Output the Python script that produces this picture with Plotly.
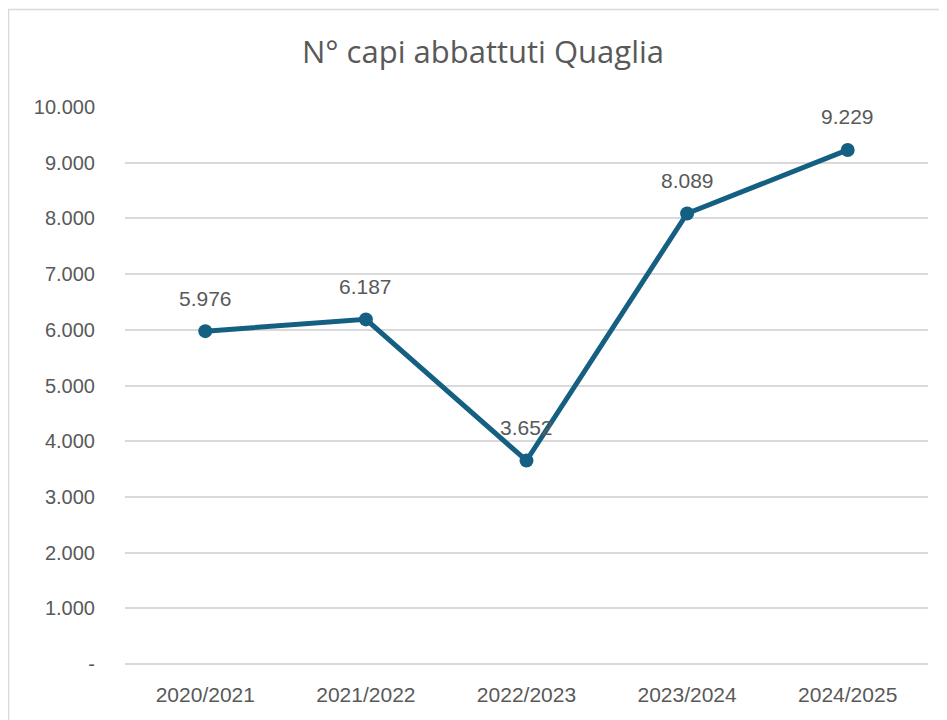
import plotly.graph_objects as go

categories = ["2020/2021", "2021/2022", "2022/2023", "2023/2024", "2024/2025"]
values = [5976, 6187, 3652, 8089, 9229]
y_tick_vals = [0, 1000, 2000, 3000, 4000, 5000, 6000, 7000, 8000, 9000, 10000]
y_tick_text = ["-" if v == 0 else f"{v:,}".replace(",", ".") for v in y_tick_vals]
title_text = "N° capi abbattuti Quaglia"

line_color = "#156082"
text_color = "#595959"
grid_color = "#d9d9d9"

# page has an 8px body margin; figure coordinates = page coordinates - 8
OFF = 8
W, H = 947 - OFF, 720 - OFF
L, T = 125 - OFF, 107 - OFF
R = W - (928 - OFF)
B = H - (664 - OFF)
pw, ph = W - L - R, H - T - B

fig = go.Figure()
fig.add_trace(go.Scatter(
    x=categories, y=values, mode="lines+markers",
    line=dict(color=line_color, width=5),
    marker=dict(color=line_color, size=14),
    hoverinfo="skip", showlegend=False,
))

for c, v in zip(categories, values):
    fig.add_annotation(
        x=c, y=v, text=f"{v:,}".replace(",", "."), showarrow=False,
        yshift=33, font=dict(family="Liberation Sans, Arial", size=21, color=text_color),
    )

def px_x(x):
    return (x - OFF - L) / pw

def px_y(y):
    return (H - B - (y - OFF)) / ph

fig.add_shape(type="rect", xref="paper", yref="paper",
              x0=px_x(8.5), x1=px_x(946), y0=px_y(730), y1=px_y(9.5),
              line=dict(color="#d9d9d9", width=1.5), fillcolor="rgba(0,0,0,0)", layer="below")

fig.update_layout(
    width=W, height=H,
    margin=dict(l=L, r=R, t=T, b=B),
    paper_bgcolor="white", plot_bgcolor="white",
    title=dict(text=title_text, x=(483 - OFF) / W, xref="container", xanchor="center",
               y=1 - (52 - OFF) / H, yref="container", yanchor="middle",
               font=dict(family="Open Sans", size=31, color=text_color)),
    xaxis=dict(
        range=[-0.5, len(categories) - 0.5],
        showgrid=False, showline=False, zeroline=False, ticks="",
        tickfont=dict(family="Liberation Sans, Arial", size=21, color=text_color),
        ticklabelstandoff=16,
    ),
    yaxis=dict(
        range=[0, 10000], tickvals=y_tick_vals, ticktext=y_tick_text,
        showgrid=True, gridcolor=grid_color, gridwidth=1.5,
        zeroline=True, zerolinecolor=grid_color, zerolinewidth=1.5,
        showline=False, ticks="",
        tickfont=dict(family="Liberation Sans, Arial", size=20, color=text_color),
        ticklabelstandoff=29,
    ),
)

fig.write_html("out.html")
